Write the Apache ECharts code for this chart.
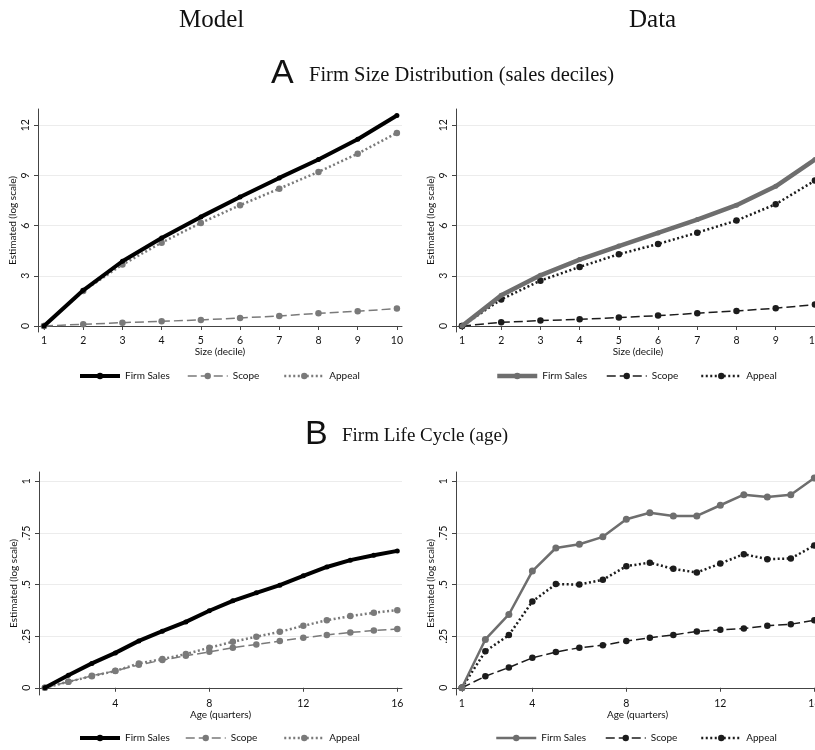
<!DOCTYPE html>
<html><head><meta charset="utf-8">
<script src="https://cdn.jsdelivr.net/npm/echarts@6/dist/echarts.min.js"></script>
<style>html,body{margin:0;padding:0;background:#fff}#c{width:815px;height:750px}</style>
</head><body><div id="c"></div>
<script>
// ---- data ----
const deciles = [1,2,3,4,5,6,7,8,9,10];
const quarters = [1,2,3,4,5,6,7,8,9,10,11,12,13,14,15,16];

const modelSizeSales  = [0, 2.13, 3.87, 5.26, 6.52, 7.71, 8.85, 9.95, 11.16, 12.58];
const modelSizeScope  = [0, 0.10, 0.20, 0.28, 0.36, 0.48, 0.60, 0.76, 0.88, 1.04];
const modelSizeAppeal = [0, 2.09, 3.67, 4.98, 6.16, 7.22, 8.21, 9.21, 10.30, 11.54];

const dataSizeSales  = [0, 1.83, 3.03, 3.97, 4.78, 5.56, 6.36, 7.22, 8.35, 9.95];
const dataSizeScope  = [0, 0.22, 0.32, 0.40, 0.50, 0.62, 0.76, 0.90, 1.06, 1.28];
const dataSizeAppeal = [0, 1.59, 2.71, 3.53, 4.29, 4.90, 5.58, 6.30, 7.28, 8.69];

const modelAgeSales  = [0, .061, .118, .169, .227, .274, .319, .373, .421, .460, .497, .542, .585, .618, .642, .663];
const modelAgeScope  = [0, .029, .058, .082, .111, .134, .155, .174, .194, .210, .226, .242, .256, .268, .277, .285];
const modelAgeAppeal = [0, .029, .056, .081, .118, .139, .163, .194, .223, .247, .271, .300, .327, .347, .363, .376];

const dataAgeSales  = [0, .234, .355, .565, .677, .695, .731, .816, .848, .832, .832, .884, .935, .924, .935, 1.016];
const dataAgeScope  = [0, .056, .098, .145, .173, .194, .206, .226, .242, .256, .273, .281, .287, .300, .308, .327];
const dataAgeAppeal = [0, .177, .255, .418, .502, .500, .523, .589, .606, .576, .558, .602, .647, .623, .626, .689];

const seriesNames = ['Firm Sales', 'Scope', 'Appeal'];

const yTicksTop = [0, 3, 6, 9, 12];
const yTickLabelsTop = ['0', '3', '6', '9', '12'];
const yTicksBottom = [0, 0.25, 0.5, 0.75, 1];
const yTickLabelsBottom = ['0', '.25', '.5', '.75', '1'];
const xTicksAgeModel = [4, 8, 12, 16];
const xTicksAgeData = [1, 4, 8, 12, 16];

const panelTitles = ['Model', 'Data'];
const sectionLetters = ['A', 'B'];
const sectionTitles = ['Firm Size Distribution (sales deciles)', 'Firm Life Cycle (age)'];
const xAxisNames = ['Size (decile)', 'Age (quarters)'];
const yAxisName = 'Estimated (log scale)';

// ---- styles ----
const SANS = 'Lato';
const SERIF = 'Liberation Serif';
const TXT = '#111';
const AX = '#444';

const styles = {
  modelSales: {color: '#000', width: 4, type: 'solid', size: 5},
  modelScope: {color: '#7a7a7a', width: 1.5, type: [9, 4], size: 6.5},
  modelAppeal:{color: '#7a7a7a', width: 2.5, type: [2, 2.5], size: 6.5},
  dataSalesTop: {color: '#6e6e6e', width: 4.5, type: 'solid', size: 5},
  dataSalesBot: {color: '#6e6e6e', width: 2.5, type: 'solid', size: 7},
  dataScope:  {color: '#1c1c1c', width: 1.5, type: [9, 4], size: 6.5},
  dataAppeal: {color: '#1c1c1c', width: 2.5, type: [2, 2.5], size: 6.5}
};

function pairs(xs, ys) { return xs.map((x, i) => [x, ys[i]]); }

function mkSeries(name, idx, xs, ys, st, z) {
  return {
    type: 'line', name: name, xAxisIndex: idx, yAxisIndex: idx,
    data: pairs(xs, ys), symbol: 'circle', symbolSize: st.size,
    lineStyle: {color: st.color, width: st.width, type: st.type},
    itemStyle: {color: st.color},
    z: z, animation: false, clip: true
  };
}

function mkLegend(name, left, top, st) {
  return {
    left: left, top: top, itemWidth: 40, itemHeight: 8, itemGap: 0,
    selectedMode: false, padding: 0,
    textStyle: {fontFamily: SANS, fontSize: 10, color: TXT, padding: [0, 0, 0, 0]},
    data: [{name: name, itemStyle: {color: st.color},
            lineStyle: {color: st.color, width: st.width, type: st.type}}]
  };
}

const grids = [
  {left: 38, top: 109, width: 364, height: 223, outerBoundsMode: 'none', containLabel: false},
  {left: 456, top: 109, width: 364, height: 223, outerBoundsMode: 'none', containLabel: false},
  {left: 39, top: 472, width: 363, height: 223, outerBoundsMode: 'none', containLabel: false},
  {left: 456, top: 472, width: 363, height: 223, outerBoundsMode: 'none', containLabel: false}
];

function mkX(gi, min, max, ticks, nm) {
  return {
    type: 'value', gridIndex: gi, min: min, max: max,
    name: nm, nameLocation: 'middle', nameGap: 15,
    nameTextStyle: {fontFamily: SANS, fontSize: 10, color: TXT},
    axisLine: {show: true, lineStyle: {color: AX, width: 1}},
    axisTick: {show: true, length: 4, lineStyle: {color: AX}, customValues: ticks},
    axisLabel: {show: true, margin: 3, fontFamily: SANS, fontSize: 10.5, color: TXT,
                customValues: ticks, formatter: v => String(v), hideOverlap: false},
    splitLine: {show: false}
  };
}
function mkY(gi, min, max, ticks, labels) {
  return {
    type: 'value', gridIndex: gi, min: min, max: max,
    name: yAxisName, nameLocation: 'middle', nameGap: 20,
    nameTextStyle: {fontFamily: SANS, fontSize: 10, color: TXT},
    axisLine: {show: true, lineStyle: {color: AX, width: 1}},
    axisTick: {show: true, length: 4, lineStyle: {color: AX}, customValues: ticks},
    axisLabel: {show: true, rotate: 90, margin: 7, fontFamily: SANS, fontSize: 10.5, color: TXT,
                customValues: ticks,
                formatter: v => { const i = ticks.findIndex(t => Math.abs(t - v) < 1e-9); return i >= 0 ? labels[i] : ''; }},
    splitLine: {show: true, lineStyle: {color: '#ececec', width: 1}}
  };
}

const option = {
  backgroundColor: '#fff',
  animation: false,
  title: [
    {text: panelTitles[0], left: 174, top: 3, textStyle: {fontFamily: SERIF, fontSize: 25, fontWeight: 'normal', color: '#111'}},
    {text: panelTitles[1], left: 624, top: 3, textStyle: {fontFamily: SERIF, fontSize: 25, fontWeight: 'normal', color: '#111'}},
    {text: sectionLetters[0], left: 266, top: 52, textStyle: {fontFamily: 'Liberation Sans', fontSize: 34, fontWeight: 'normal', color: '#111'}},
    {text: sectionTitles[0], left: 304, top: 60, textStyle: {fontFamily: SERIF, fontSize: 20.5, fontWeight: 'normal', color: '#111'}},
    {text: sectionLetters[1], left: 300, top: 413, textStyle: {fontFamily: 'Liberation Sans', fontSize: 34, fontWeight: 'normal', color: '#111'}},
    {text: sectionTitles[1], left: 337, top: 422, textStyle: {fontFamily: SERIF, fontSize: 19, fontWeight: 'normal', color: '#111'}}
  ],
  grid: grids,
  xAxis: [
    mkX(0, 0.847, 10.13, deciles, xAxisNames[0]),
    mkX(1, 0.847, 10.13, deciles, xAxisNames[0]),
    mkX(2, 0.75, 16.2, xTicksAgeModel, xAxisNames[1]),
    mkX(3, 0.75, 16.2, xTicksAgeData, xAxisNames[1])
  ],
  yAxis: [
    mkY(0, -0.36, 12.97, yTicksTop, yTickLabelsTop),
    mkY(1, -0.36, 12.97, yTicksTop, yTickLabelsTop),
    mkY(2, -0.035, 1.045, yTicksBottom, yTickLabelsBottom),
    mkY(3, -0.035, 1.045, yTicksBottom, yTickLabelsBottom)
  ],
  legend: [
    mkLegend(seriesNames[0], 78, 371, styles.modelSales),
    mkLegend(seriesNames[1], 187, 371, styles.modelScope),
    mkLegend(seriesNames[2], 283, 371, styles.modelAppeal),
    mkLegend(seriesNames[0], 495, 371, styles.dataSalesTop),
    mkLegend(seriesNames[1], 606, 371, styles.dataScope),
    mkLegend(seriesNames[2], 700, 371, styles.dataAppeal),
    mkLegend(seriesNames[0], 78, 733, styles.modelSales),
    mkLegend(seriesNames[1], 185, 733, styles.modelScope),
    mkLegend(seriesNames[2], 283, 733, styles.modelAppeal),
    mkLegend(seriesNames[0], 495, 733, styles.dataSalesBot),
    mkLegend(seriesNames[1], 605, 733, styles.dataScope),
    mkLegend(seriesNames[2], 700, 733, styles.dataAppeal)
  ],
  series: [
    mkSeries(seriesNames[1], 0, deciles, modelSizeScope, styles.modelScope, 2),
    mkSeries(seriesNames[2], 0, deciles, modelSizeAppeal, styles.modelAppeal, 3),
    mkSeries(seriesNames[0], 0, deciles, modelSizeSales, styles.modelSales, 4),
    mkSeries(seriesNames[1], 1, deciles, dataSizeScope, styles.dataScope, 2),
    mkSeries(seriesNames[2], 1, deciles, dataSizeAppeal, styles.dataAppeal, 3),
    mkSeries(seriesNames[0], 1, deciles, dataSizeSales, styles.dataSalesTop, 4),
    mkSeries(seriesNames[1], 2, quarters, modelAgeScope, styles.modelScope, 2),
    mkSeries(seriesNames[2], 2, quarters, modelAgeAppeal, styles.modelAppeal, 3),
    mkSeries(seriesNames[0], 2, quarters, modelAgeSales, styles.modelSales, 4),
    mkSeries(seriesNames[1], 3, quarters, dataAgeScope, styles.dataScope, 2),
    mkSeries(seriesNames[2], 3, quarters, dataAgeAppeal, styles.dataAppeal, 3),
    mkSeries(seriesNames[0], 3, quarters, dataAgeSales, styles.dataSalesBot, 4)
  ]
};

const chart = echarts.init(document.getElementById('c'), null, {renderer: 'canvas'});
chart.setOption(option);
</script>
</body></html>
